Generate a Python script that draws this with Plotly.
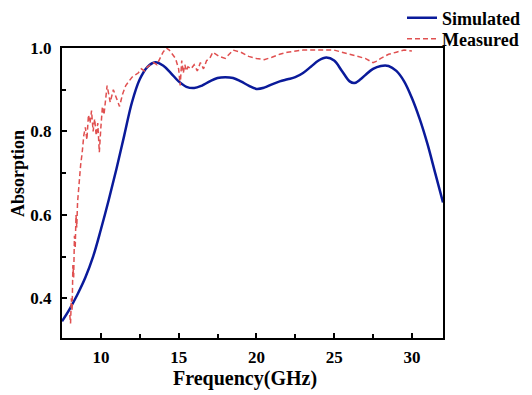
import plotly.graph_objects as go

# Simulated absorption
sim_freq = [7.5, 8.0, 8.5, 9.0, 9.5, 10.0, 10.5, 11.0, 11.5, 12.0, 12.5, 13.0, 13.5, 14.0,
            14.5, 15.0, 15.5, 16.0, 16.5, 17.0, 17.5, 18.0, 18.5, 19.0, 19.5, 20.0, 20.5,
            21.0, 21.5, 22.0, 22.5, 23.0, 23.5, 24.0, 24.5, 25.0, 25.5, 26.0, 26.3, 26.7,
            27.0, 27.5, 28.0, 28.5, 29.0, 29.5, 30.0, 30.5, 31.0, 31.5, 32.0]
sim_abs = [0.345, 0.375, 0.41, 0.45, 0.50, 0.565, 0.635, 0.71, 0.79, 0.87, 0.925, 0.955,
           0.966, 0.958, 0.94, 0.92, 0.907, 0.904, 0.91, 0.92, 0.928, 0.93, 0.928, 0.92,
           0.91, 0.902, 0.905, 0.913, 0.92, 0.925, 0.93, 0.94, 0.955, 0.97, 0.977, 0.97,
           0.945, 0.92, 0.916, 0.925, 0.935, 0.95, 0.957, 0.957, 0.945, 0.92, 0.88, 0.83,
           0.77, 0.70, 0.63]

# Measured absorption
meas_freq = [8.0, 8.05, 8.1, 8.15, 8.2, 8.25, 8.3, 8.35, 8.4, 8.45, 8.5, 8.6, 8.7, 8.8,
             8.9, 9.0, 9.1, 9.2, 9.3, 9.4, 9.5, 9.6, 9.7, 9.8, 9.9, 10.0, 10.1, 10.2,
             10.3, 10.4, 10.5, 10.6, 10.8, 11.0, 11.2, 11.4, 11.6, 11.8, 12.0, 12.2,
             12.4, 12.6, 12.8, 13.0, 13.2, 13.4, 13.6, 13.8, 14.0, 14.2, 14.4, 14.6,
             14.8, 15.0, 15.1, 15.2, 15.3, 15.4, 15.5, 15.6, 15.8, 16.0, 16.2, 16.4,
             16.6, 16.8, 17.0, 17.2, 17.4, 17.6, 18.0, 18.5, 19.0, 19.5, 20.0, 20.5,
             21.0, 21.5, 22.0, 23.0, 24.0, 25.0, 25.5, 26.0, 26.5, 27.0, 27.5, 27.7,
             28.0, 28.5, 29.0, 29.5, 30.0]
meas_abs = [0.36, 0.34, 0.40, 0.37, 0.48, 0.45, 0.55, 0.52, 0.60, 0.57, 0.63, 0.68, 0.72,
            0.75, 0.79, 0.81, 0.78, 0.84, 0.82, 0.85, 0.80, 0.83, 0.79, 0.82, 0.75, 0.81,
            0.86, 0.84, 0.88, 0.91, 0.89, 0.87, 0.90, 0.88, 0.86, 0.89, 0.91, 0.92, 0.93,
            0.935, 0.94, 0.95, 0.945, 0.955, 0.96, 0.965, 0.96, 0.975, 0.99, 1.0, 0.995,
            0.985, 0.975, 0.95, 0.91, 0.97, 0.94, 0.96, 0.945, 0.955, 0.95, 0.96, 0.945,
            0.965, 0.95, 0.97, 0.975, 0.99, 0.985, 0.98, 0.975, 0.995, 0.99, 0.98, 0.975,
            0.972, 0.978, 0.985, 0.99, 0.995, 0.995, 0.995, 0.99, 0.985, 0.98, 0.975,
            0.965, 0.968, 0.975, 0.985, 0.99, 0.995, 0.993]

x_ticks = [10, 15, 20, 25, 30]
y_ticks = [0.4, 0.6, 0.8, 1.0]
y_ticklabels = ["0.4", "0.6", "0.8", "1.0"]

FONT = "Liberation Serif"

fig = go.Figure()
fig.add_trace(go.Scatter(x=sim_freq, y=sim_abs, mode="lines", name="<b>Simulated</b>",
                         line=dict(color="#0a1a9a", width=2.5, shape="spline"),
                         legend="legend"))
fig.add_trace(go.Scatter(x=meas_freq, y=meas_abs, mode="lines", name="<b>Measured</b>",
                         line=dict(color="#e05050", width=1.5, dash="5px,3px"),
                         legend="legend2"))

axis_common = dict(showline=True, linecolor="black", linewidth=2, mirror=True,
                   ticks="inside", ticklen=5, tickwidth=2, tickcolor="black",
                   showgrid=False, zeroline=False,
                   tickfont=dict(family=FONT, size=17, color="black"))

leg_common = dict(xref="paper", yref="paper", xanchor="left", yanchor="middle",
                  font=dict(family=FONT, size=18, color="black"),
                  bgcolor="rgba(0,0,0,0)", borderwidth=0)

fig.update_layout(
    width=532, height=395,
    margin=dict(l=54, r=97, t=40, b=65, autoexpand=False),
    paper_bgcolor="white", plot_bgcolor="white",
    font=dict(family=FONT, color="black"),
    xaxis=dict(range=[7.5, 32], tickvals=x_ticks,
               ticktext=[f"<b>{v}</b>" for v in x_ticks],
               ticklabelstandoff=3,
               minor=dict(ticks="inside", ticklen=4, tickwidth=1.5, tickcolor="black",
                          dtick=2.5, tick0=7.5),
               **axis_common),
    yaxis=dict(range=[0.305, 1.0], tickvals=y_ticks,
               ticktext=[f"<b>{t}</b>" for t in y_ticklabels],
               ticklabelstandoff=5,
               minor=dict(ticks="inside", ticklen=4, tickwidth=1.5, tickcolor="black",
                          dtick=0.1, tick0=0.3),
               **axis_common),
    legend=dict(x=(394 - 54) / 381, y=(330 - 10) / 290, **leg_common),
    legend2=dict(x=(394 - 54) / 381, y=(330 - 31) / 290, **leg_common),
    showlegend=True,
    annotations=[
        dict(text="<b>Frequency(GHz)</b>", xref="paper", yref="paper",
             x=0.480, y=-0.141, xanchor="center", yanchor="middle", showarrow=False,
             font=dict(family=FONT, size=20, color="black")),
        dict(text="<b>Absorption</b>", xref="paper", yref="paper",
             x=(10 - 54) / 381, y=(330 - 166) / 290, xanchor="center", yanchor="middle",
             textangle=-90, showarrow=False,
             font=dict(family=FONT, size=18, color="black")),
    ],
)

fig.write_html("out.html")
